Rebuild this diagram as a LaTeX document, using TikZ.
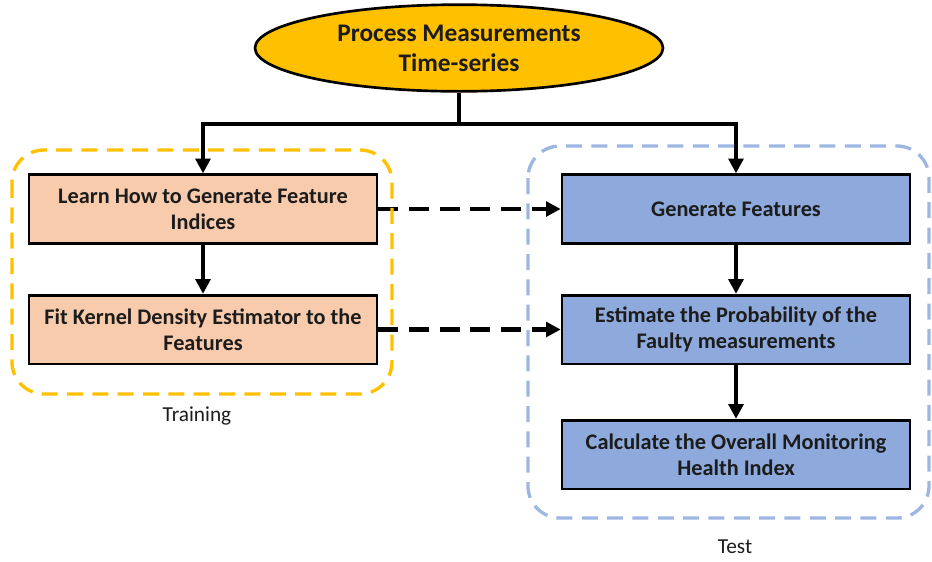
\documentclass[tikz,border=0pt]{standalone}
\usepackage{fontspec}
\setmainfont{Carlito}
\usetikzlibrary{positioning, arrows.meta, shapes.geometric}

\definecolor{gold}{HTML}{FFC000}
\definecolor{peach}{HTML}{F8CBAD}
\definecolor{steel}{HTML}{8EA9DB}
\definecolor{paleblue}{HTML}{9DB6E2}
\definecolor{ink}{HTML}{1C1C1C}

\begin{document}
\begin{tikzpicture}[x=0.75pt, y=-0.75pt,
  box/.style={draw=black, line width=2pt, minimum width=261pt, minimum height=51.5pt,
    align=center, text=ink, font=\fontsize{16.7}{19.5}\selectfont\bfseries},
  flow/.style={line width=3.2pt, -{Triangle[length=11pt,width=11pt]}},
  link/.style={flow, dash pattern=on 15pt off 8pt},
  group/.style={line width=2.5pt, dash pattern=on 12pt off 7pt, rounded corners=24pt},
  caption/.style={text=ink, font=\fontsize{16}{19}\selectfont}]
  \useasboundingbox (0,0) rectangle (932,561);

  %source
  \node[ellipse, draw=black, line width=2pt, fill=gold, minimum width=306pt, minimum height=65pt,
    inner sep=0pt, align=center, text=ink, font=\fontsize{19}{22.5}\selectfont\bfseries]
    (src) at (459,48) {Process Measurements\\Time-series};

  %training side
  \node[box, fill=peach] (learn) at (203,209) {Learn How to Generate Feature\\Indices};
  \node[box, fill=peach] (kde) at (203,329.5) {Fit Kernel Density Estimator to the\\Features};

  %test side
  \node[box, fill=steel] (gen) at (736,209) {Generate Features};
  \node[box, fill=steel] (prob) at (736,329.5) {Estimate the Probability of the\\Faulty measurements};
  \node[box, fill=steel] (health) at (736,454.5) {Calculate the Overall Monitoring\\Health Index};

  % split from the source
  \coordinate (split) at (459,124);
  \draw[line width=3.2pt] (src.south) -- (split);
  \draw[flow] (split) -| (learn.north);
  \draw[flow] (split) -| (gen.north);

  % chains
  \draw[flow] (learn) -- (kde);
  \draw[flow] (gen) -- (prob);
  \draw[flow] (prob) -- (health);

  % training feeds test
  \draw[link] (learn.east) -- (gen.west);
  \draw[link] (kde.east) -- (prob.west);

  %groups
  \draw[group, draw=gold] (12,150) rectangle (392,394);
  \node[caption] (train) at (197,416) {Training};
  \draw[group, draw=paleblue] (528,146) rectangle (929,518);
  \node[caption] (test) at (735,547) {Test};
\end{tikzpicture}
\end{document}
